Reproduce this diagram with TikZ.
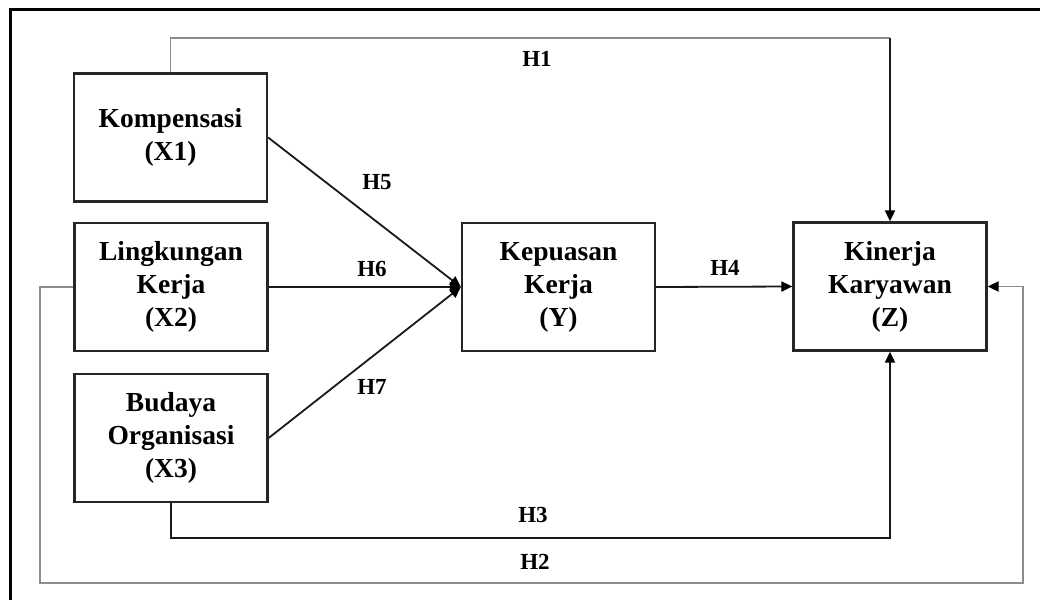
\documentclass[tikz,border=0pt]{standalone}
\usepackage{fontspec}
\setmainfont{Liberation Serif}
\usetikzlibrary{arrows.meta}
\begin{document}
\begin{tikzpicture}[x=1pt,y=-1pt,
  box/.style={draw=black!85,line width=2.3pt,minimum width=193pt,minimum height=128pt,inner sep=0pt,align=center,font=\fontsize{27.5}{33}\selectfont\bfseries},
  lbl/.style={font=\fontsize{23}{26}\selectfont\bfseries,inner sep=0pt},
  conn/.style={line width=1.8pt,draw=black!90},
  gconn/.style={line width=1.8pt,draw=black!45},
  tip/.style={-{Triangle[length=11pt,width=10pt,color=black]}}]
\useasboundingbox (0,0) rectangle (1040,599);
\fill[white] (0,0) rectangle (1040,599);
\draw[line width=3pt] (10,602) -- (10,10) -- (1043,10);

\node[box] (x1) at (170.5,137.5) {Kompensasi\\(X1)};
\node[box] (x2) at (171,287) {Lingkungan\\Kerja\\(X2)};
\node[box] (x3) at (171,438) {Budaya\\Organisasi\\(X3)};
\node[box] (y) at (558.5,287) {Kepuasan\\Kerja\\(Y)};
\node[box] (z) at (890,286.5) {Kinerja\\Karyawan\\(Z)};

\coordinate (h1c) at (890,38);
\coordinate (h3c) at (890,538);
\coordinate (h2a) at (40,287);
\coordinate (h2b) at (40,583);
\coordinate (h2c) at (1023,583);
\coordinate (h2d) at (1023,286.5);

\draw[gconn] (x1.north) |- (h1c);
\draw[conn,tip] (h1c) -- (z.north);
\draw[conn,tip] (x3.south) |- (h3c) -- (z.south);
\draw[gconn,tip] (x2.west) -- (h2a) -- (h2b) -- (h2c) -- (h2d) -- (z.east);

\draw[conn,tip] (x1.east) -- (y.west);
\draw[conn,tip] (x2.east) -- (y.west);
\draw[conn,tip] (x3.east) -- (y.west);
\draw[conn,tip] (y.east) -- (z.west);

\node[lbl] (l1) at (537,59) {H1};
\node[lbl] (l5) at (377,182) {H5};
\node[lbl] (l6) at (372,269) {H6};
\node[lbl] (l7) at (372,387) {H7};
\node[lbl] (l4) at (725,268) {H4};
\node[lbl] (l3) at (533,515) {H3};
\node[lbl] (l2) at (535,562) {H2};
\end{tikzpicture}
\end{document}
